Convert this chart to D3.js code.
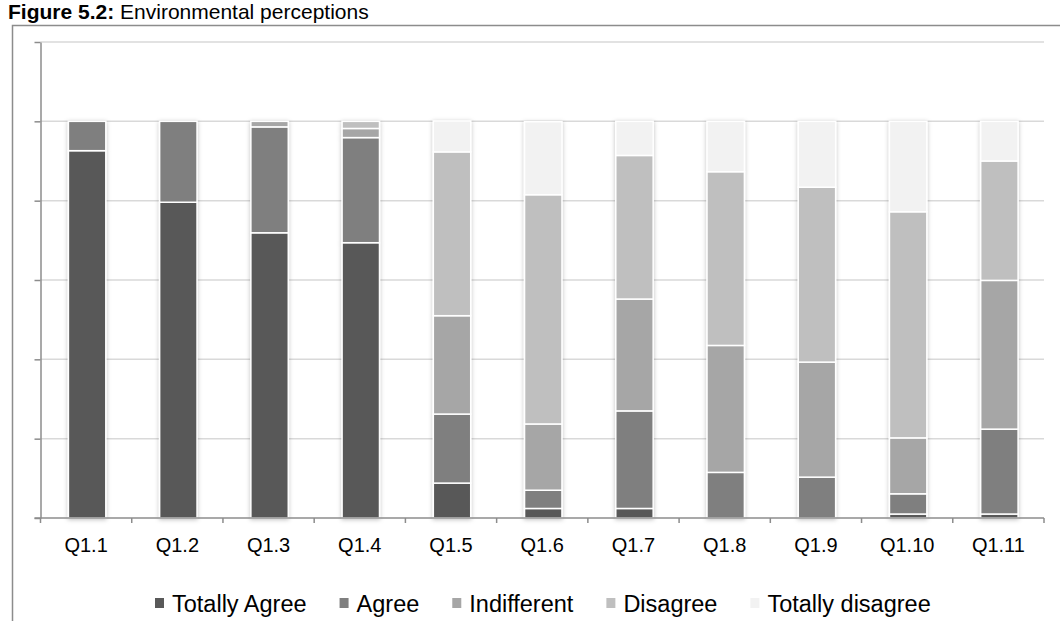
<!DOCTYPE html>
<html>
<head>
    <meta charset="utf-8">
    <script src="https://d3js.org/d3.v7.min.js"></script>
    <style>
        body { margin: 0; background: #fff; }
        svg { display: block; font-family: "Liberation Sans", Arial, sans-serif; }
    </style>
</head>
<body>
    <svg width="1060" height="621"></svg>

    <script>
        // data (percent of answers)
        var categories = ["Q1.1", "Q1.2", "Q1.3", "Q1.4", "Q1.5", "Q1.6", "Q1.7", "Q1.8", "Q1.9", "Q1.10", "Q1.11"];
        var seriesNames = ["Totally Agree", "Agree", "Indifferent", "Disagree", "Totally disagree"];
        var totallyAgree    = [92.6, 79.6, 71.9, 69.4, 8.8, 2.4, 2.4, 0, 0, 1.0, 1.0];
        var agree           = [7.4, 20.4, 26.7, 26.5, 17.4, 4.6, 24.6, 11.5, 10.3, 5.1, 21.4];
        var indifferent     = [0, 0, 1.4, 2.3, 24.8, 16.7, 28.2, 32.0, 29.0, 14.1, 37.5];
        var disagree        = [0, 0, 0, 1.8, 41.3, 57.8, 36.2, 43.8, 44.1, 57.0, 30.1];
        var totallyDisagree = [0, 0, 0, 0, 7.8, 18.4, 8.6, 12.7, 16.6, 22.8, 10.0];
        var yTicks = [0, 20, 40, 60, 80, 100, 120];

        var colors = ["#595959", "#7f7f7f", "#a6a6a6", "#bfbfbf", "#f2f2f2"];
        var seriesValues = [totallyAgree, agree, indifferent, disagree, totallyDisagree];

        var rows = categories.map(function (c, i) {
            var r = { cat: c };
            seriesNames.forEach(function (s, j) { r[s] = seriesValues[j][i]; });
            return r;
        });

        var svg = d3.select("svg");

        // title
        var title = svg.append("text").attr("x", 8).attr("y", 19)
            .style("font-size", "21px").attr("fill", "#000");
        title.append("tspan").style("font-weight", "bold").text("Figure 5.2:");
        title.append("tspan").text(" Environmental perceptions");

        // chart frame
        svg.append("path")
            .attr("d", "M12.5,621 V25.5 H1060")
            .attr("fill", "none").attr("stroke", "#8c8c8c").attr("stroke-width", 1.5);

        var plotLeft = 40.5, plotRight = 1044, plotTop = 42, plotBottom = 518;

        var x = d3.scaleBand().domain(categories).range([plotLeft, plotRight]).padding(0);
        var y = d3.scaleLinear().domain([0, 120]).range([plotBottom, plotTop]);

        // gridlines
        svg.append("g").selectAll("line")
            .data(yTicks.filter(function (d) { return d > 0; }))
            .enter().append("line")
            .attr("x1", plotLeft).attr("x2", plotRight)
            .attr("y1", function (d) { return y(d); })
            .attr("y2", function (d) { return y(d); })
            .attr("stroke", "#d9d9d9").attr("stroke-width", 1.5);

        // soft shadow behind the bars
        var defs = svg.append("defs");
        var f = defs.append("filter").attr("id", "shadow")
            .attr("x", "-30%").attr("y", "-5%").attr("width", "160%").attr("height", "110%");
        f.append("feDropShadow").attr("dx", 0).attr("dy", 1).attr("stdDeviation", 2)
            .attr("flood-color", "#000").attr("flood-opacity", 0.25);

        var stack = d3.stack().keys(seriesNames)(rows);
        var barW = x.bandwidth() * 0.41;

        var barsG = svg.append("g");
        categories.forEach(function (c, i) {
            var bg = barsG.append("g").attr("filter", "url(#shadow)");
            stack.forEach(function (layer, j) {
                var d = layer[i];
                if (d[1] - d[0] <= 0) return;
                bg.append("rect")
                    .attr("x", x(c) + (x.bandwidth() - barW) / 2 + 1)
                    .attr("y", y(d[1]))
                    .attr("width", barW)
                    .attr("height", y(d[0]) - y(d[1]))
                    .attr("fill", colors[j])
                    .attr("stroke", "#fff").attr("stroke-width", 1.5);
            });
        });

        // y axis (no labels)
        var yAxis = svg.append("g")
            .attr("transform", "translate(" + plotLeft + ",0)")
            .call(d3.axisLeft(y).tickValues(yTicks).tickSize(6).tickSizeOuter(0).tickFormat(""));
        yAxis.selectAll("path, line").attr("stroke", "#8c8c8c").attr("stroke-width", 1.5);

        // x axis: ticks on band edges, labels centred
        var xAxis = svg.append("g").attr("transform", "translate(0," + plotBottom + ")");
        xAxis.append("line").attr("x1", plotLeft - 6).attr("x2", plotRight)
            .attr("stroke", "#8c8c8c").attr("stroke-width", 1.5);
        xAxis.selectAll(".edge")
            .data(categories.concat(["end"]))
            .enter().append("line")
            .attr("x1", function (d, i) { return i < categories.length ? x(d) : plotRight; })
            .attr("x2", function (d, i) { return i < categories.length ? x(d) : plotRight; })
            .attr("y1", 0).attr("y2", 5)
            .attr("stroke", "#8c8c8c").attr("stroke-width", 1.5);
        xAxis.selectAll(".lbl")
            .data(categories)
            .enter().append("text")
            .attr("x", function (d) { return x(d) + x.bandwidth() / 2; })
            .attr("y", 34)
            .attr("text-anchor", "middle")
            .style("font-size", "20px")
            .attr("fill", "#000")
            .text(function (d) { return d; });

        // legend
        var legend = svg.append("g");
        var lx = 155;
        seriesNames.forEach(function (s, j) {
            legend.append("rect").attr("x", lx).attr("y", 598)
                .attr("width", 9).attr("height", 10).attr("fill", colors[j]);
            var t = legend.append("text").attr("x", lx + 17).attr("y", 612)
                .style("font-size", "23.5px").attr("fill", "#000").text(s);
            lx += 17 + t.node().getComputedTextLength() + 33;
        });
    </script>
</body>
</html>
